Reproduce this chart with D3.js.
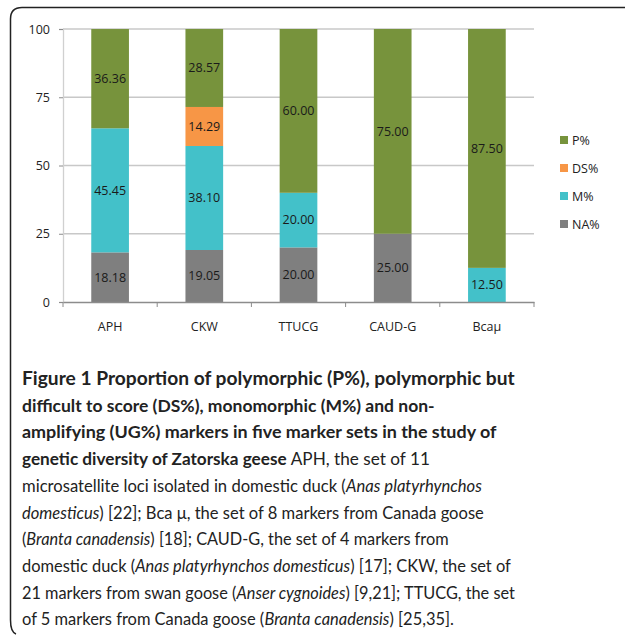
<!DOCTYPE html>
<html>
<head>
<meta charset="utf-8">
<script src="https://cdn.jsdelivr.net/npm/d3@7"></script>
<style>
	body { margin: 0; background: #fff; }
	svg { display: block; }
	.tick text { font-family: 'Open Sans', sans-serif; }
</style>
</head>
<body>
<svg id="chart" width="625" height="636"></svg>
<script>
// marker sets, bottom to top order in the stack is NA, M, DS, P
let sets = ['APH', 'CKW', 'TTUCG', 'CAUD-G', 'Bcaμ']
let series = ['NA%', 'M%', 'DS%', 'P%']
let na_vals = [18.18, 19.05, 20.00, 25.00, 0]
let m_vals = [45.45, 38.10, 20.00, 0, 12.50]
let ds_vals = [0, 14.29, 0, 0, 0]
let p_vals = [36.36, 28.57, 60.00, 75.00, 87.50]
let y_ticks = [0, 25, 50, 75, 100]
let colors = {'NA%': '#7f7f7f', 'M%': '#43c1c9', 'DS%': '#f79646', 'P%': '#77933c'}

// caption lines: [text, style] pieces
let caption = [
	[['Figure 1 Proportion of polymorphic (P%), polymorphic but', 'b']],
	[['difficult to score (DS%), monomorphic (M%) and non-', 'b']],
	[['amplifying (UG%) markers in five marker sets in the study of', 'b']],
	[['genetic diversity of Zatorska geese', 'b'], [' APH, the set of 11', 'n']],
	[['microsatellite loci isolated in domestic duck (', 'n'], ['Anas platyrhynchos', 'i']],
	[['domesticus', 'i'], [') [22]; Bca μ, the set of 8 markers from Canada goose', 'n']],
	[['(', 'n'], ['Branta canadensis', 'i'], [') [18]; CAUD-G, the set of 4 markers from', 'n']],
	[['domestic duck (', 'n'], ['Anas platyrhynchos domesticus', 'i'], [') [17]; CKW, the set of', 'n']],
	[['21 markers from swan goose (', 'n'], ['Anser cygnoides', 'i'], [') [9,21]; TTUCG, the set', 'n']],
	[['of 5 markers from Canada goose (', 'n'], ['Branta canadensis', 'i'], [') [25,35].', 'n']]
]
let caption_w = [493, 413, 475, 408, 460, 462, 427, 489, 493, 432]

document.addEventListener('DOMContentLoaded', function(event) {
	const svg = d3.select('#chart')
	const left = 63, right = 534, top = 29, bottom = 302

	// frame
	svg.append('path')
		.attr('d', 'M625,7.5 L22,7.5 Q10.5,7.5 10.5,19 L10.5,620 Q10.5,632 16,634')
		.attr('fill', 'none')
		.attr('stroke', '#222')
		.attr('stroke-width', 1.5)

	const x = d3.scaleBand().domain(sets).range([left, right]).paddingInner(0.6).paddingOuter(0.3)
	const xb = d3.scaleBand().domain(sets).range([left, right])
	const y = d3.scaleLinear().domain([0, 100]).range([bottom, top])

	// gridlines
	svg.append('g')
		.selectAll('line')
		.data(y_ticks.filter(d => d > 0))
		.enter()
		.append('line')
		.attr('x1', left).attr('x2', right)
		.attr('y1', d => y(d)).attr('y2', d => y(d))
		.attr('stroke', '#c8c8c8')
		.attr('stroke-width', 1.3)

	// y axis
	const yAxis = svg.append('g')
		.attr('transform', `translate(${left},0)`)
		.call(d3.axisLeft(y).tickValues(y_ticks).tickSize(4).tickPadding(9))
	yAxis.select('.domain').attr('stroke', '#d0d0d0').attr('stroke-width', 1.3)
	yAxis.selectAll('.tick line').attr('stroke', '#8c8c8c')
	yAxis.selectAll('.tick text').attr('font-size', 12.5).attr('fill', '#222')

	// stacked bars
	const table = sets.map((s, i) => ({set: s, 'NA%': na_vals[i], 'M%': m_vals[i], 'DS%': ds_vals[i], 'P%': p_vals[i]}))
	const stacked = d3.stack().keys(series)(table)

	const layer = svg.append('g')
		.selectAll('g')
		.data(stacked)
		.enter()
		.append('g')
		.attr('fill', d => colors[d.key])

	layer.selectAll('rect')
		.data(d => d.filter(p => p[1] - p[0] > 0))
		.enter()
		.append('rect')
		.attr('x', d => x(d.data.set))
		.attr('width', x.bandwidth())
		.attr('y', d => y(d[1]))
		.attr('height', d => y(d[0]) - y(d[1]))

	layer.selectAll('text')
		.data(d => d.filter(p => p[1] - p[0] > 0))
		.enter()
		.append('text')
		.attr('x', d => x(d.data.set) + x.bandwidth() / 2)
		.attr('y', d => y((d[0] + d[1]) / 2))
		.attr('dy', '0.35em')
		.attr('text-anchor', 'middle')
		.attr('font-family', 'Open Sans, sans-serif')
		.attr('font-size', 12.5)
		.attr('fill', '#1a1a1a')
		.text(d => (d[1] - d[0]).toFixed(2))

	// x axis
	const xAxis = svg.append('g')
		.attr('transform', `translate(0,${bottom})`)
		.call(d3.axisBottom(xb).tickSize(0).tickPadding(20))
	xAxis.select('.domain').attr('stroke', '#8c8c8c').attr('stroke-width', 1.3)
	xAxis.selectAll('.tick text').attr('font-size', 12.5).attr('fill', '#222')
	xAxis.selectAll('.sep')
		.data(sets.concat(['end']))
		.enter()
		.append('line')
		.attr('x1', (d, i) => left + i * xb.step())
		.attr('x2', (d, i) => left + i * xb.step())
		.attr('y1', 0).attr('y2', 5)
		.attr('stroke', '#8c8c8c')

	// legend
	const legend = svg.append('g')
		.selectAll('g')
		.data(series.slice().reverse())
		.enter()
		.append('g')
		.attr('transform', (d, i) => `translate(560,${140 + i * 28})`)
	legend.append('rect')
		.attr('x', 0).attr('y', -4)
		.attr('width', 8).attr('height', 8)
		.attr('fill', d => colors[d])
	legend.append('text')
		.attr('x', 12)
		.attr('dy', '0.36em')
		.attr('font-family', 'Open Sans, sans-serif')
		.attr('font-size', 12.5)
		.attr('fill', '#222')
		.text(d => d)

	// caption: each piece its own text, font size per line chosen so the line fits its width
	const cap = svg.append('g')
		.attr('font-family', 'Lato, sans-serif')
		.attr('fill', '#222')
	caption.forEach((line, i) => {
		let pieces = line.map(part => {
			let t = cap.append('text')
				.attr('y', 385 + i * 26.7)
				.attr('font-size', 17)
				.attr('font-weight', part[1] == 'b' ? 'bold' : 'normal')
				.attr('font-style', part[1] == 'i' ? 'italic' : 'normal')
				.style('white-space', 'pre')
				.text(part[0])
			return {t: t, w: t.node().getComputedTextLength()}
		})
		let k = caption_w[i] / d3.sum(pieces, p => p.w)
		let cx = 22
		pieces.forEach(p => {
			p.t.attr('x', cx).attr('font-size', 17 * k)
			cx += p.w * k
		})
	})
})
</script>
</body>
</html>
